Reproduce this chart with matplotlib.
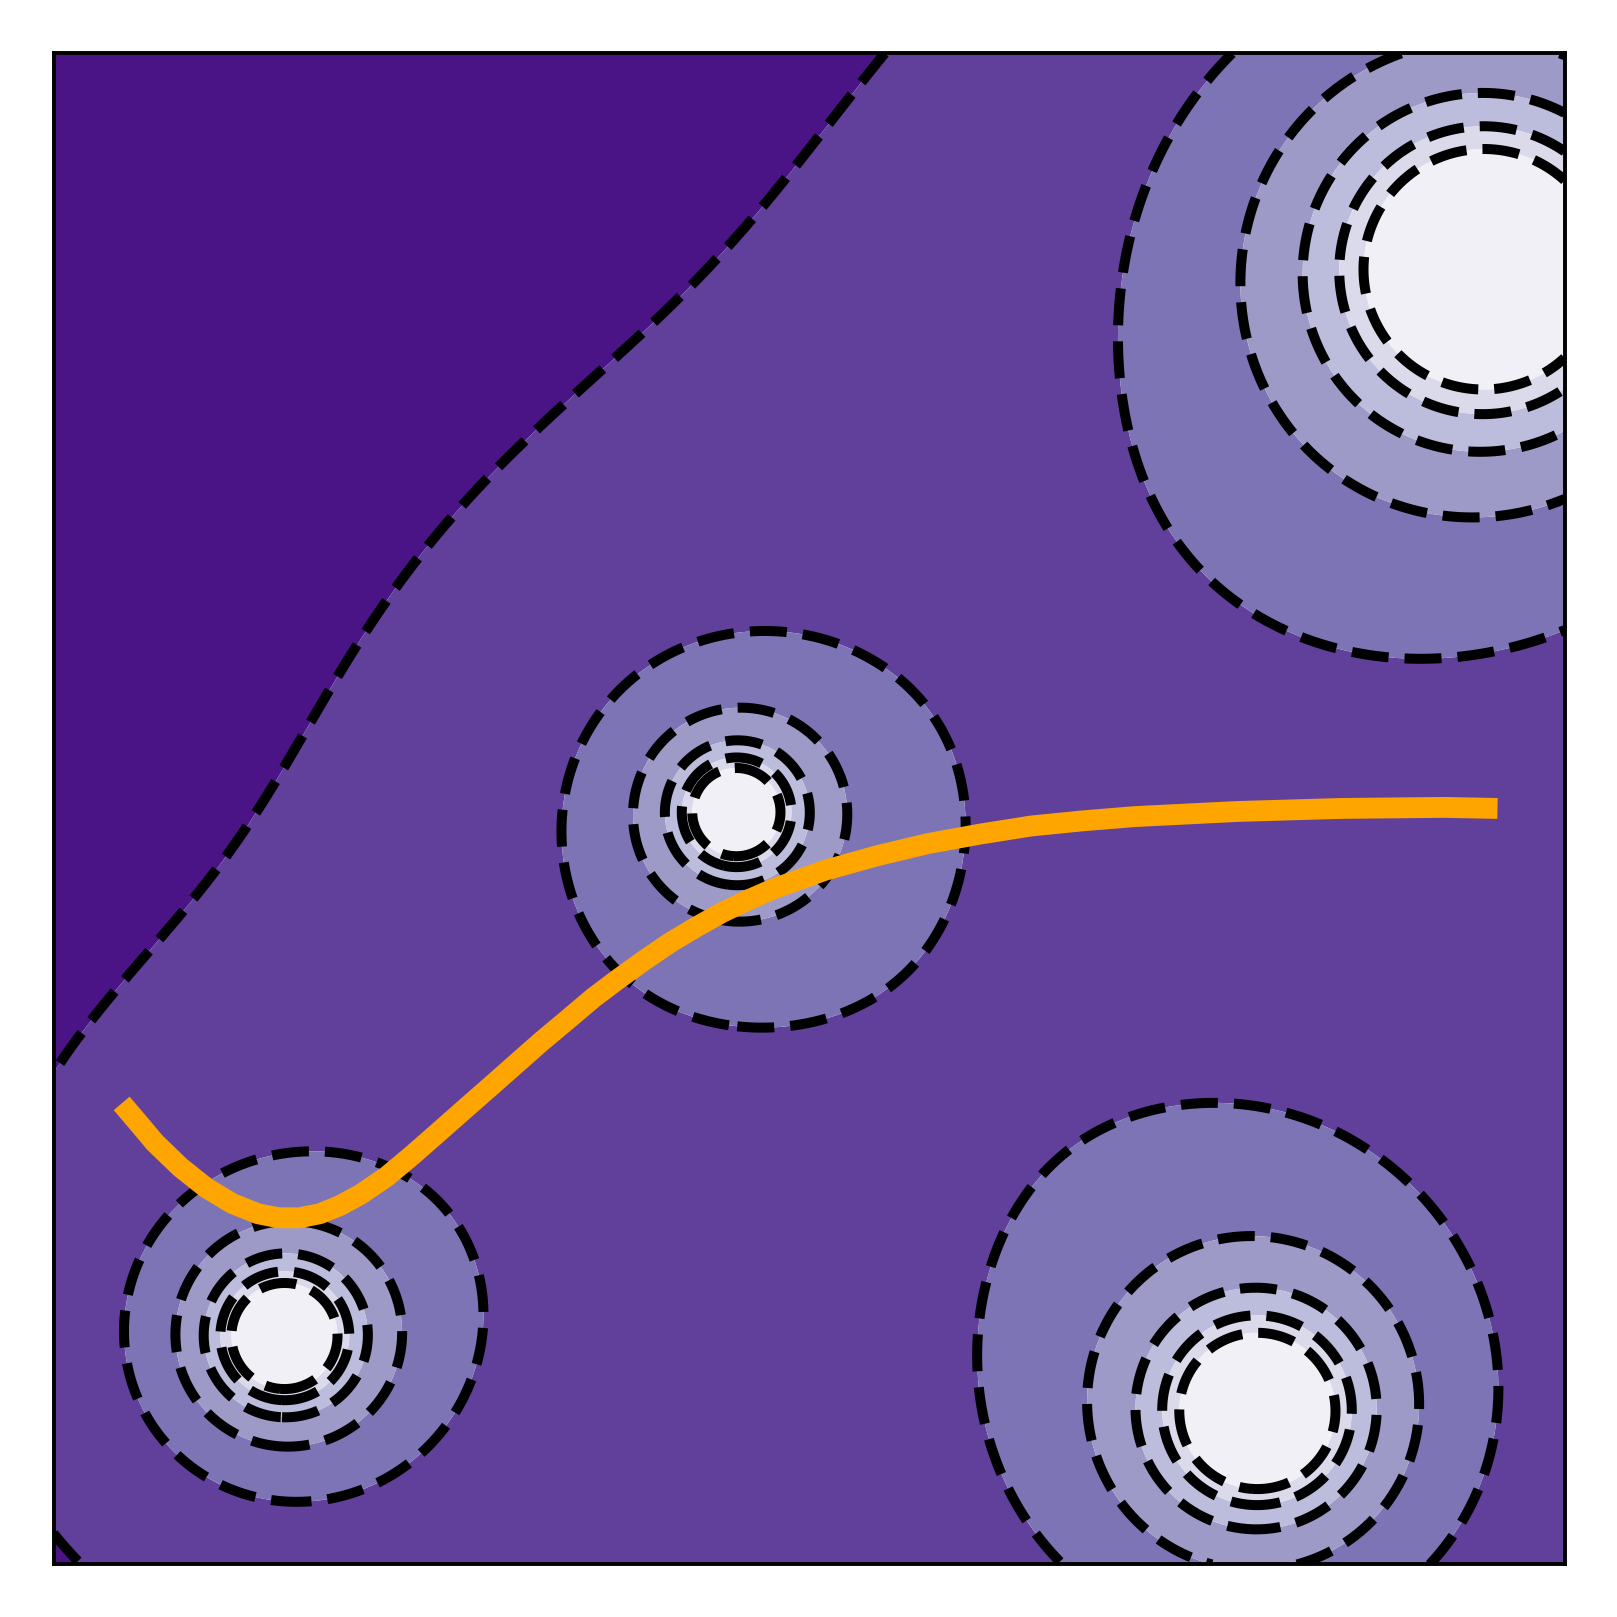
import numpy as np
import matplotlib
matplotlib.use("Agg")
import matplotlib.pyplot as plt

# ---- data ----
# point sources of a 1/r field (data units 0..10)
src_x = [9.47, 7.97, 1.525, 4.517]
src_y = [8.58, 1.01, 1.51, 4.98]
src_strength = [4.70, 2.85, 1.93, 1.45]

# interior contour levels (dark -> light boundaries)
levels_inner = [1.91, 2.885, 3.79, 4.76, 5.73, 6.70]
band_colors = ['#4a1486', '#61409b', '#7c74b5', '#9e9ac8',
               '#bcbddc', '#dadaeb', '#f2f0f7']

# orange path
path_x = [0.451, 0.567, 0.670, 0.840, 1.011, 1.182, 1.352, 1.489, 1.625,
          1.762, 1.898, 2.035, 2.205, 2.376, 2.547, 2.717, 2.888, 3.059,
          3.229, 3.400, 3.570, 3.741, 3.912, 4.082, 4.253, 4.424, 4.594,
          4.765, 5.106, 5.447, 5.789, 6.130, 6.471, 6.812, 7.154, 7.836,
          8.519, 9.201, 9.556]
path_y = [3.051, 2.915, 2.792, 2.628, 2.492, 2.389, 2.321, 2.294, 2.294,
          2.321, 2.376, 2.451, 2.567, 2.710, 2.860, 3.010, 3.160, 3.311,
          3.461, 3.604, 3.748, 3.877, 4.000, 4.116, 4.218, 4.314, 4.396,
          4.471, 4.594, 4.689, 4.771, 4.833, 4.887, 4.921, 4.949, 4.983,
          5.003, 5.010, 5.003]

# ---- field ----
gx = np.linspace(0, 10, 801)
gy = np.linspace(0, 10, 801)
X, Y = np.meshgrid(gx, gy)
Z = np.zeros_like(X)
for sx, sy, a in zip(src_x, src_y, src_strength):
    r = np.sqrt((X - sx) ** 2 + (Y - sy) ** 2)
    Z += a / np.maximum(r, 1e-3)
Z = np.minimum(Z, 100.0)

levels_full = [Z.min() - 1.0] + levels_inner + [Z.max() + 1.0]

fig = plt.figure(figsize=(16.17, 16.17), dpi=100)
ax = fig.add_axes([0.0331, 0.0325, 0.9345, 0.9345])
ax.contourf(X, Y, Z, levels=levels_full, colors=band_colors, antialiased=True)
ax.contour(X, Y, Z, levels=levels_inner, colors='black',
           linestyles='dashed', linewidths=7.2)
ax.plot(path_x, path_y, color='#ffa500', lw=15, solid_capstyle='butt',
        solid_joinstyle='round', zorder=5)

ax.set_xlim(0, 10)
ax.set_ylim(0, 10)
ax.set_xticks([])
ax.set_yticks([])
for s in ax.spines.values():
    s.set_linewidth(2.8)
    s.set_color('black')
    s.set_zorder(10)

fig.savefig("out.png", dpi=100)
